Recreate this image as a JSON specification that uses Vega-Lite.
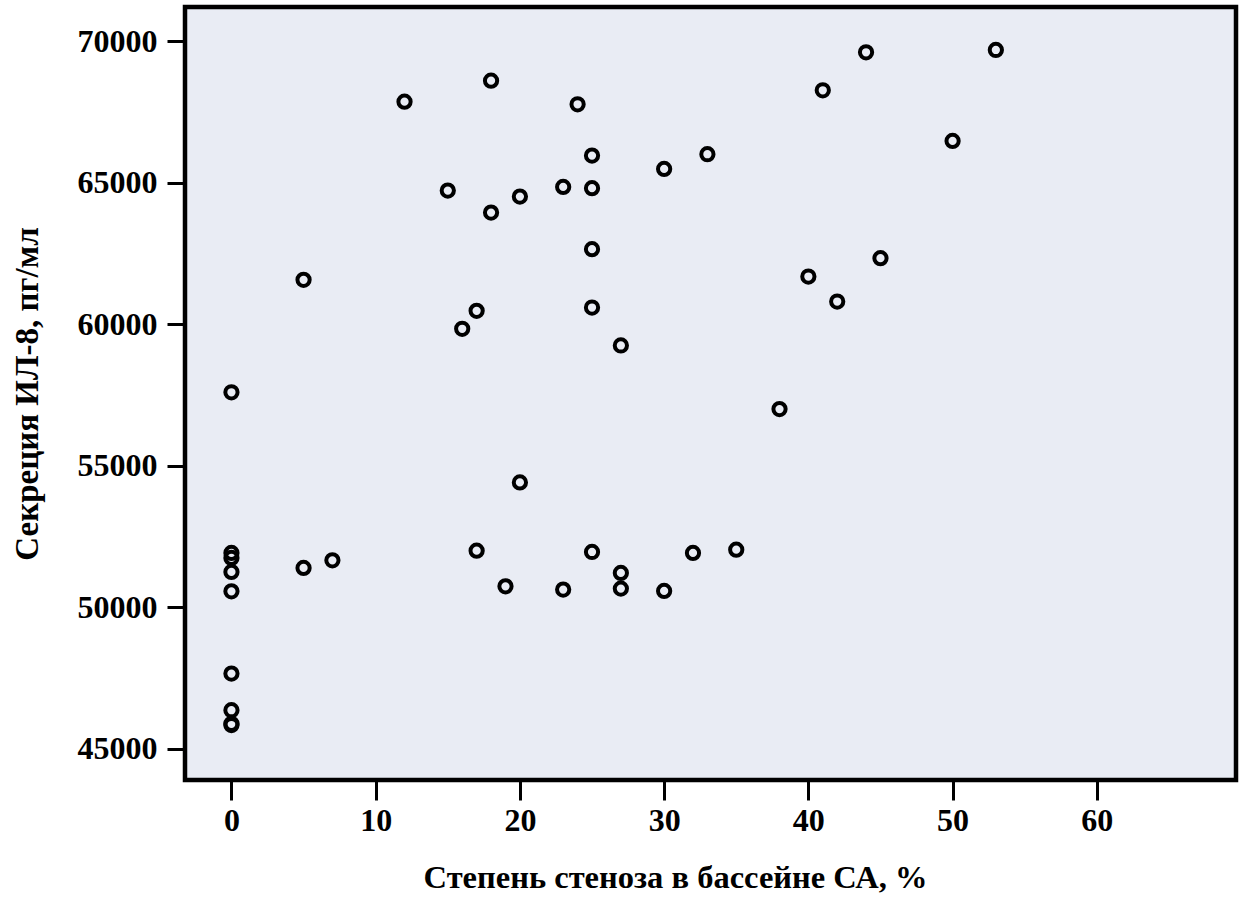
{
  "$schema": "https://vega.github.io/schema/vega-lite/v6.json",
  "width": 1051,
  "height": 773,
  "autosize": {"type": "none"},
  "padding": {"left": 185, "top": 7, "right": 9, "bottom": 119},
  "background": "white",
  "config": {
    "view": {"fill": "#E9ECF4", "stroke": "black", "strokeWidth": 4.5},
    "font": "Liberation Serif"
  },
  "data": {
    "values": [
      {"x": 18, "y": 68608}, {"x": 12, "y": 67866}, {"x": 15, "y": 64722}, {"x": 20, "y": 64510},
      {"x": 18, "y": 63945}, {"x": 5, "y": 61568}, {"x": 17, "y": 60473}, {"x": 16, "y": 59837},
      {"x": 0, "y": 57593}, {"x": 44, "y": 69611}, {"x": 41, "y": 68269}, {"x": 24, "y": 67774},
      {"x": 25, "y": 65959}, {"x": 33, "y": 66008}, {"x": 30, "y": 65489}, {"x": 23, "y": 64853},
      {"x": 25, "y": 64807}, {"x": 25, "y": 62652}, {"x": 45, "y": 62334}, {"x": 40, "y": 61684},
      {"x": 42, "y": 60801}, {"x": 25, "y": 60589}, {"x": 27, "y": 59247}, {"x": 53, "y": 69693},
      {"x": 50, "y": 66478}, {"x": 20, "y": 54407}, {"x": 17, "y": 51994}, {"x": 19, "y": 50733},
      {"x": 7, "y": 51652}, {"x": 5, "y": 51383}, {"x": 0, "y": 51913}, {"x": 0, "y": 51736},
      {"x": 0, "y": 51242}, {"x": 0, "y": 50556}, {"x": 0, "y": 47649}, {"x": 0, "y": 46353},
      {"x": 0, "y": 45872}, {"x": 0, "y": 45830}, {"x": 38, "y": 57000}, {"x": 25, "y": 51948},
      {"x": 32, "y": 51913}, {"x": 35, "y": 52030}, {"x": 23, "y": 50617}, {"x": 27, "y": 51207},
      {"x": 27, "y": 50652}, {"x": 30, "y": 50571}
    ]
  },
  "mark": {"type": "point", "shape": "circle", "filled": false, "stroke": "black", "strokeWidth": 4, "size": 150, "opacity": 1, "clip": true},
  "encoding": {
    "x": {
      "field": "x", "type": "quantitative",
      "scale": {"domain": [-3.22, 69.65], "nice": false, "zero": false},
      "axis": {
        "title": "Степень стеноза в бассейне СА, %",
        "values": [0, 10, 20, 30, 40, 50, 60],
        "grid": false, "domain": false,
        "tickColor": "black", "tickWidth": 3, "tickSize": 20,
        "labelFont": "Liberation Serif", "labelFontSize": 32, "labelFontWeight": "bold", "labelColor": "black", "labelPadding": 5,
        "titleFont": "Liberation Serif", "titleFontSize": 32.5, "titleFontWeight": "bold", "titleColor": "black",
        "titleX": 490, "titleY": 107.5, "titleBaseline": "alphabetic", "titleAlign": "center"
      }
    },
    "y": {
      "field": "y", "type": "quantitative",
      "scale": {"domain": [43887, 71212], "nice": false, "zero": false},
      "axis": {
        "title": "Секреция ИЛ-8, пг/мл",
        "values": [45000, 50000, 55000, 60000, 65000, 70000],
        "format": "d",
        "grid": false, "domain": false,
        "tickColor": "black", "tickWidth": 3, "tickSize": 18,
        "labelFont": "Liberation Serif", "labelFontSize": 32, "labelFontWeight": "bold", "labelColor": "black", "labelPadding": 10,
        "titleFont": "Liberation Serif", "titleFontSize": 33, "titleFontWeight": "bold", "titleColor": "black",
        "titleX": -148, "titleBaseline": "alphabetic", "titleAngle": -90
      }
    }
  }
}
